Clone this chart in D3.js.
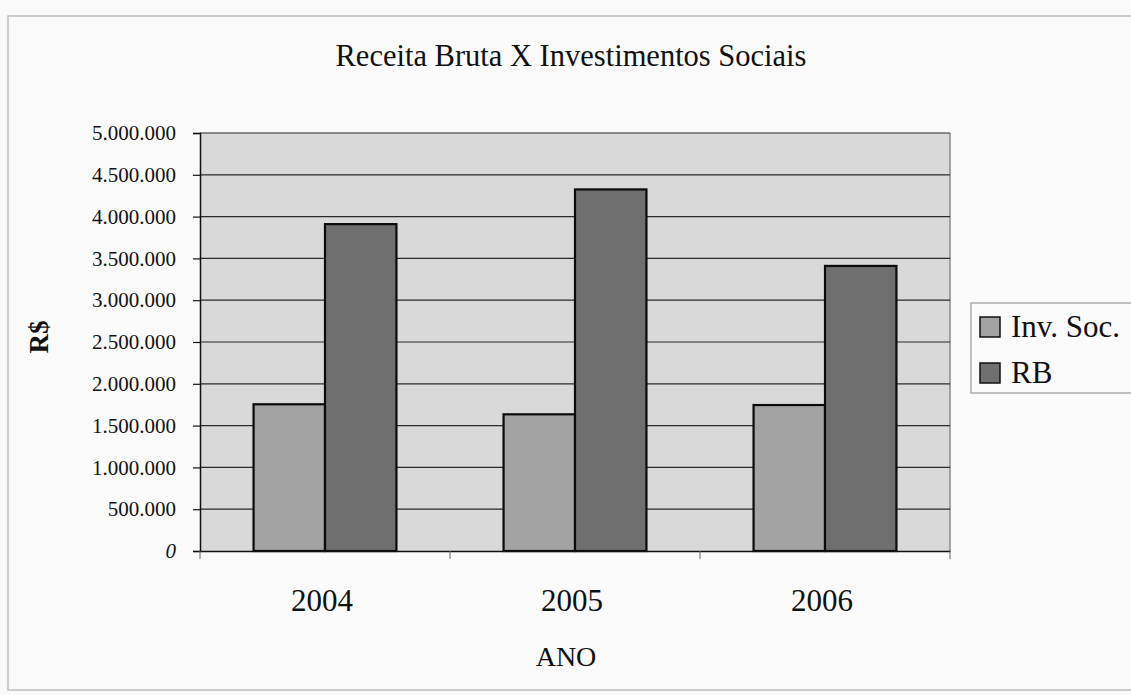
<!DOCTYPE html>
<html>
<head>
<meta charset="utf-8">
<script src="https://cdn.jsdelivr.net/npm/d3@7"></script>
<style>
  html, body { margin: 0; padding: 0; background: #fafafa; }
  svg { display: block; }
  svg text { font-family: "Liberation Serif", "Times New Roman", serif !important; fill: #111; }
</style>
</head>
<body>
<svg id="chart" width="1131" height="695"></svg>
<script>
// Chart data
const years = ["2004", "2005", "2006"];
const seriesNames = ["Inv. Soc.", "RB"];
const invSoc = [1755000, 1635000, 1746000];
const rb = [3910000, 4325000, 3410000];
const yTicks = [0, 500000, 1000000, 1500000, 2000000, 2500000, 3000000, 3500000, 4000000, 4500000, 5000000];
const seriesColors = ["#a3a3a3", "#6f6f6f"];

const svg = d3.select("#chart");
const W = 1131, H = 695;
const plot = { left: 200, right: 950, top: 133, bottom: 551 };

// outer chart frame
svg.append("rect")
  .attr("x", 8).attr("y", 16)
  .attr("width", W + 10).attr("height", 674)
  .attr("fill", "#fafafa")
  .attr("stroke", "#bdbdbd").attr("stroke-width", 1.5);

const x0 = d3.scaleBand().domain(years).range([plot.left, plot.right]).paddingInner(0).paddingOuter(0);
const x1 = d3.scaleBand().domain(seriesNames).range([0, x0.bandwidth()]).paddingInner(0).paddingOuter(0.75);
const y = d3.scaleLinear().domain([0, 5000000]).range([plot.bottom, plot.top]);

// plot area background
svg.append("rect")
  .attr("x", plot.left).attr("y", plot.top)
  .attr("width", plot.right - plot.left).attr("height", plot.bottom - plot.top)
  .attr("fill", "#d9d9d9");

// right edge of plot area
svg.append("line")
  .attr("x1", plot.right).attr("x2", plot.right)
  .attr("y1", plot.top).attr("y2", plot.bottom)
  .attr("stroke", "#8a8a8a").attr("stroke-width", 1.5);

// gridlines
svg.append("g")
  .selectAll("line")
  .data(yTicks.filter(d => d > 0))
  .join("line")
  .attr("x1", plot.left).attr("x2", plot.right)
  .attr("y1", d => y(d)).attr("y2", d => y(d))
  .attr("stroke", "#2a2a2a").attr("stroke-width", 1.2);

// y axis with tick labels in pt-BR style (dots as thousands separators)
const fmt = d => d3.format(",")(d).replace(/,/g, ".");
const yAxis = svg.append("g")
  .attr("transform", `translate(${plot.left},0)`)
  .call(d3.axisLeft(y).tickValues(yTicks).tickFormat(fmt).tickSize(7).tickPadding(17));
yAxis.attr("font-family", null);
yAxis.select(".domain").attr("stroke", "#111").attr("stroke-width", 1.5);
yAxis.selectAll(".tick line").attr("stroke", "#111").attr("stroke-width", 1.2);
yAxis.selectAll(".tick text")
  .attr("font-size", 21)
  .attr("fill", "#222");
yAxis.selectAll(".tick").filter(d => d === 0).select("text").attr("font-style", "italic");

// bars
const groups = svg.append("g")
  .selectAll("g")
  .data(years.map((yr, i) => ({ yr, vals: [invSoc[i], rb[i]] })))
  .join("g")
  .attr("transform", d => `translate(${x0(d.yr)},0)`);

groups.selectAll("rect")
  .data(d => d.vals.map((v, j) => ({ name: seriesNames[j], v, j })))
  .join("rect")
  .attr("x", d => x1(d.name))
  .attr("width", x1.bandwidth())
  .attr("y", d => y(d.v))
  .attr("height", d => y(0) - y(d.v))
  .attr("fill", d => seriesColors[d.j])
  .attr("stroke", "#0a0a0a").attr("stroke-width", 2.2);

// x axis
const xAxis = svg.append("g")
  .attr("transform", `translate(0,${plot.bottom})`)
  .call(d3.axisBottom(x0).tickSize(0).tickPadding(38));
xAxis.attr("font-family", null);
xAxis.select(".domain").attr("stroke", "#111").attr("stroke-width", 1.5);
xAxis.selectAll(".tick text")
  .attr("font-size", 31)
  .attr("dx", -3)
  .attr("fill", "#111");

// category separators below the axis
svg.append("g")
  .selectAll("line")
  .data([plot.left, ...years.map(yr => x0(yr) + x0.bandwidth())])
  .join("line")
  .attr("x1", d => d).attr("x2", d => d)
  .attr("y1", plot.bottom).attr("y2", plot.bottom + 8)
  .attr("stroke", "#666").attr("stroke-width", 1);

// title
svg.append("text")
  .attr("x", 571).attr("y", 66)
  .attr("text-anchor", "middle")
  .attr("font-size", 30.5)
  .text("Receita Bruta X Investimentos Sociais");

// axis titles
svg.append("text")
  .attr("x", 566).attr("y", 666)
  .attr("text-anchor", "middle")
  .attr("font-size", 28)
  .text("ANO");

svg.append("text")
  .attr("transform", "translate(48,337) rotate(-90)")
  .attr("text-anchor", "middle")
  .attr("font-size", 27)
  .attr("font-weight", "bold")
  .text("R$");

// legend
const legend = svg.append("g");
legend.append("rect")
  .attr("x", 971).attr("y", 303)
  .attr("width", 170).attr("height", 90)
  .attr("fill", "#fafafa")
  .attr("stroke", "#9a9a9a").attr("stroke-width", 1.2);

const items = legend.selectAll("g.item")
  .data(seriesNames)
  .join("g")
  .attr("class", "item")
  .attr("transform", (d, i) => `translate(980,${317 + i * 46})`);
items.append("rect")
  .attr("width", 20).attr("height", 20)
  .attr("fill", (d, i) => seriesColors[i])
  .attr("stroke", "#111").attr("stroke-width", 1.5);
items.append("text")
  .attr("x", 31).attr("y", 20)
  .attr("font-size", 31)
  .text(d => d);
</script>
</body>
</html>
